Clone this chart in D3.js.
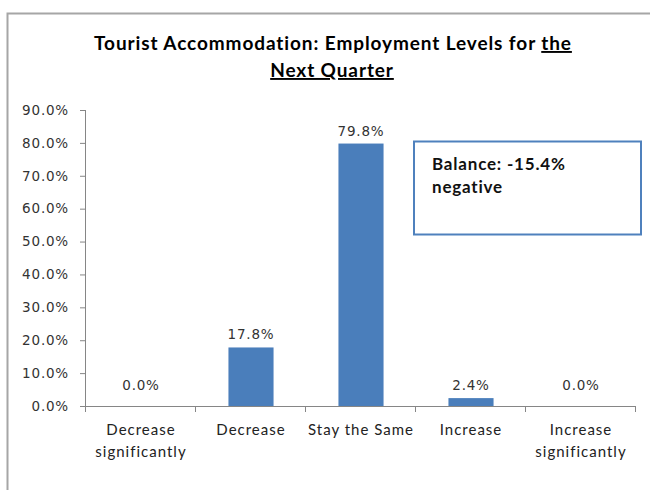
<!DOCTYPE html>
<html>
<head>
<meta charset="utf-8">
<script src="https://d3js.org/d3.v7.min.js"></script>
<style>
  body { margin: 0; background: #fff; }
  svg { display: block; }
</style>
</head>
<body>
<div id="chart"></div>
<script>
// chart data
var categories = [["Decrease", "significantly"], ["Decrease"], ["Stay the Same"], ["Increase"], ["Increase", "significantly"]];
var values = [0.0, 17.8, 79.8, 2.4, 0.0];
var yTicks = [0, 10, 20, 30, 40, 50, 60, 70, 80, 90];
var titleLines = ["Tourist Accommodation: Employment Levels for ", "the", "Next Quarter"];
var noteLines = ["Balance: -15.4%", "negative"];

var W = 650, H = 490;
var margin = {top: 110, right: 14, bottom: 84, left: 86},
    width = 636 - margin.left,
    height = 406 - margin.top;

var svg = d3.select("#chart")
  .append("svg")
    .attr("width", W)
    .attr("height", H);

// outer chart border (runs off the right and bottom)
svg.append("path")
  .attr("d", "M7.5,500 V13.5 H660")
  .attr("fill", "none")
  .attr("stroke", "#a6a6a6")
  .attr("stroke-width", 2);

// title
var title = svg.append("text")
  .attr("x", 333)
  .attr("y", 50)
  .attr("text-anchor", "middle")
  .style("font-family", "Lato, sans-serif")
  .style("font-weight", "bold")
  .style("font-size", "19px")
  .style("letter-spacing", "0.9px")
  .attr("fill", "#000");
title.append("tspan").text(titleLines[0]);
title.append("tspan").text(titleLines[1]).attr("text-decoration", "underline");
svg.append("text")
  .attr("x", 332)
  .attr("y", 77)
  .attr("text-anchor", "middle")
  .attr("text-decoration", "underline")
  .style("font-family", "Lato, sans-serif")
  .style("font-weight", "bold")
  .style("font-size", "19px")
  .style("letter-spacing", "0.9px")
  .attr("fill", "#000")
  .text(titleLines[2]);

var g = svg.append("g")
  .attr("transform", "translate(" + margin.left + "," + margin.top + ")");

var x = d3.scaleBand()
  .domain(d3.range(categories.length))
  .range([0, width])
  .paddingInner(0.59)
  .paddingOuter(0.295);

var y = d3.scaleLinear()
  .domain([0, 90])
  .range([height, 0]);

// y axis
var yAxis = g.append("g")
  .call(d3.axisLeft(y).tickValues(yTicks).tickSize(6).tickPadding(11)
    .tickFormat(function(d) { return d.toFixed(1) + "%"; }));
yAxis.select(".domain").attr("stroke", "#868686").attr("d", "M-0.5," + height + "V0");
yAxis.selectAll(".tick line").attr("stroke", "#868686");
yAxis.selectAll(".tick text")
  .attr("fill", "#333")
  .style("font-family", "'DejaVu Sans', sans-serif")
  .style("font-size", "13.5px")
  .style("letter-spacing", "0.8px");

// x axis: ticks at category boundaries
var bounds = d3.range(categories.length + 1).map(function(i) { return i * width / categories.length; });
g.append("line")
  .attr("x1", 0).attr("x2", width)
  .attr("y1", height + 0.5).attr("y2", height + 0.5)
  .attr("stroke", "#868686");
g.selectAll(".xtick")
  .data(bounds)
  .enter()
  .append("line")
  .attr("x1", function(d) { return Math.round(d) - 0.5; })
  .attr("x2", function(d) { return Math.round(d) - 0.5; })
  .attr("y1", height)
  .attr("y2", height + 6)
  .attr("stroke", "#868686");

// category labels
var catLabels = g.selectAll(".cat")
  .data(categories)
  .enter()
  .append("text")
  .attr("text-anchor", "middle")
  .attr("fill", "#222")
  .style("font-family", "Lato, sans-serif")
  .style("font-size", "15px")
  .style("letter-spacing", "1px");
catLabels.selectAll("tspan")
  .data(function(d, i) { return d.map(function(s) { return {s: s, i: i}; }); })
  .enter()
  .append("tspan")
  .attr("x", function(d) { return x(d.i) + x.bandwidth() / 2; })
  .attr("y", function(d, j) { return height + 29 + j * 22; })
  .text(function(d) { return d.s; });

// bars
g.selectAll(".bar")
  .data(values)
  .enter()
  .append("rect")
  .attr("x", function(d, i) { return x(i); })
  .attr("y", function(d) { return y(d); })
  .attr("width", x.bandwidth())
  .attr("height", function(d) { return height - y(d); })
  .attr("fill", "#4a7ebb");

// value labels
g.selectAll(".val")
  .data(values)
  .enter()
  .append("text")
  .attr("x", function(d, i) { return x(i) + x.bandwidth() / 2; })
  .attr("y", function(d) { return Math.min(y(d) - 8, height - 16); })
  .attr("text-anchor", "middle")
  .attr("fill", "#333")
  .style("font-family", "'DejaVu Sans', sans-serif")
  .style("font-size", "13.5px")
  .style("letter-spacing", "0.8px")
  .text(function(d) { return d.toFixed(1) + "%"; });

// balance note box
svg.append("rect")
  .attr("x", 414)
  .attr("y", 141.5)
  .attr("width", 227)
  .attr("height", 93)
  .attr("fill", "#fff")
  .attr("stroke", "#4f81bd")
  .attr("stroke-width", 2);
svg.selectAll(".note")
  .data(noteLines)
  .enter()
  .append("text")
  .attr("x", 432)
  .attr("y", function(d, i) { return 170 + i * 23; })
  .attr("fill", "#111")
  .style("font-family", "Lato, sans-serif")
  .style("font-weight", "bold")
  .style("font-size", "17px")
  .style("letter-spacing", "0.8px")
  .text(function(d) { return d; });
</script>
</body>
</html>
